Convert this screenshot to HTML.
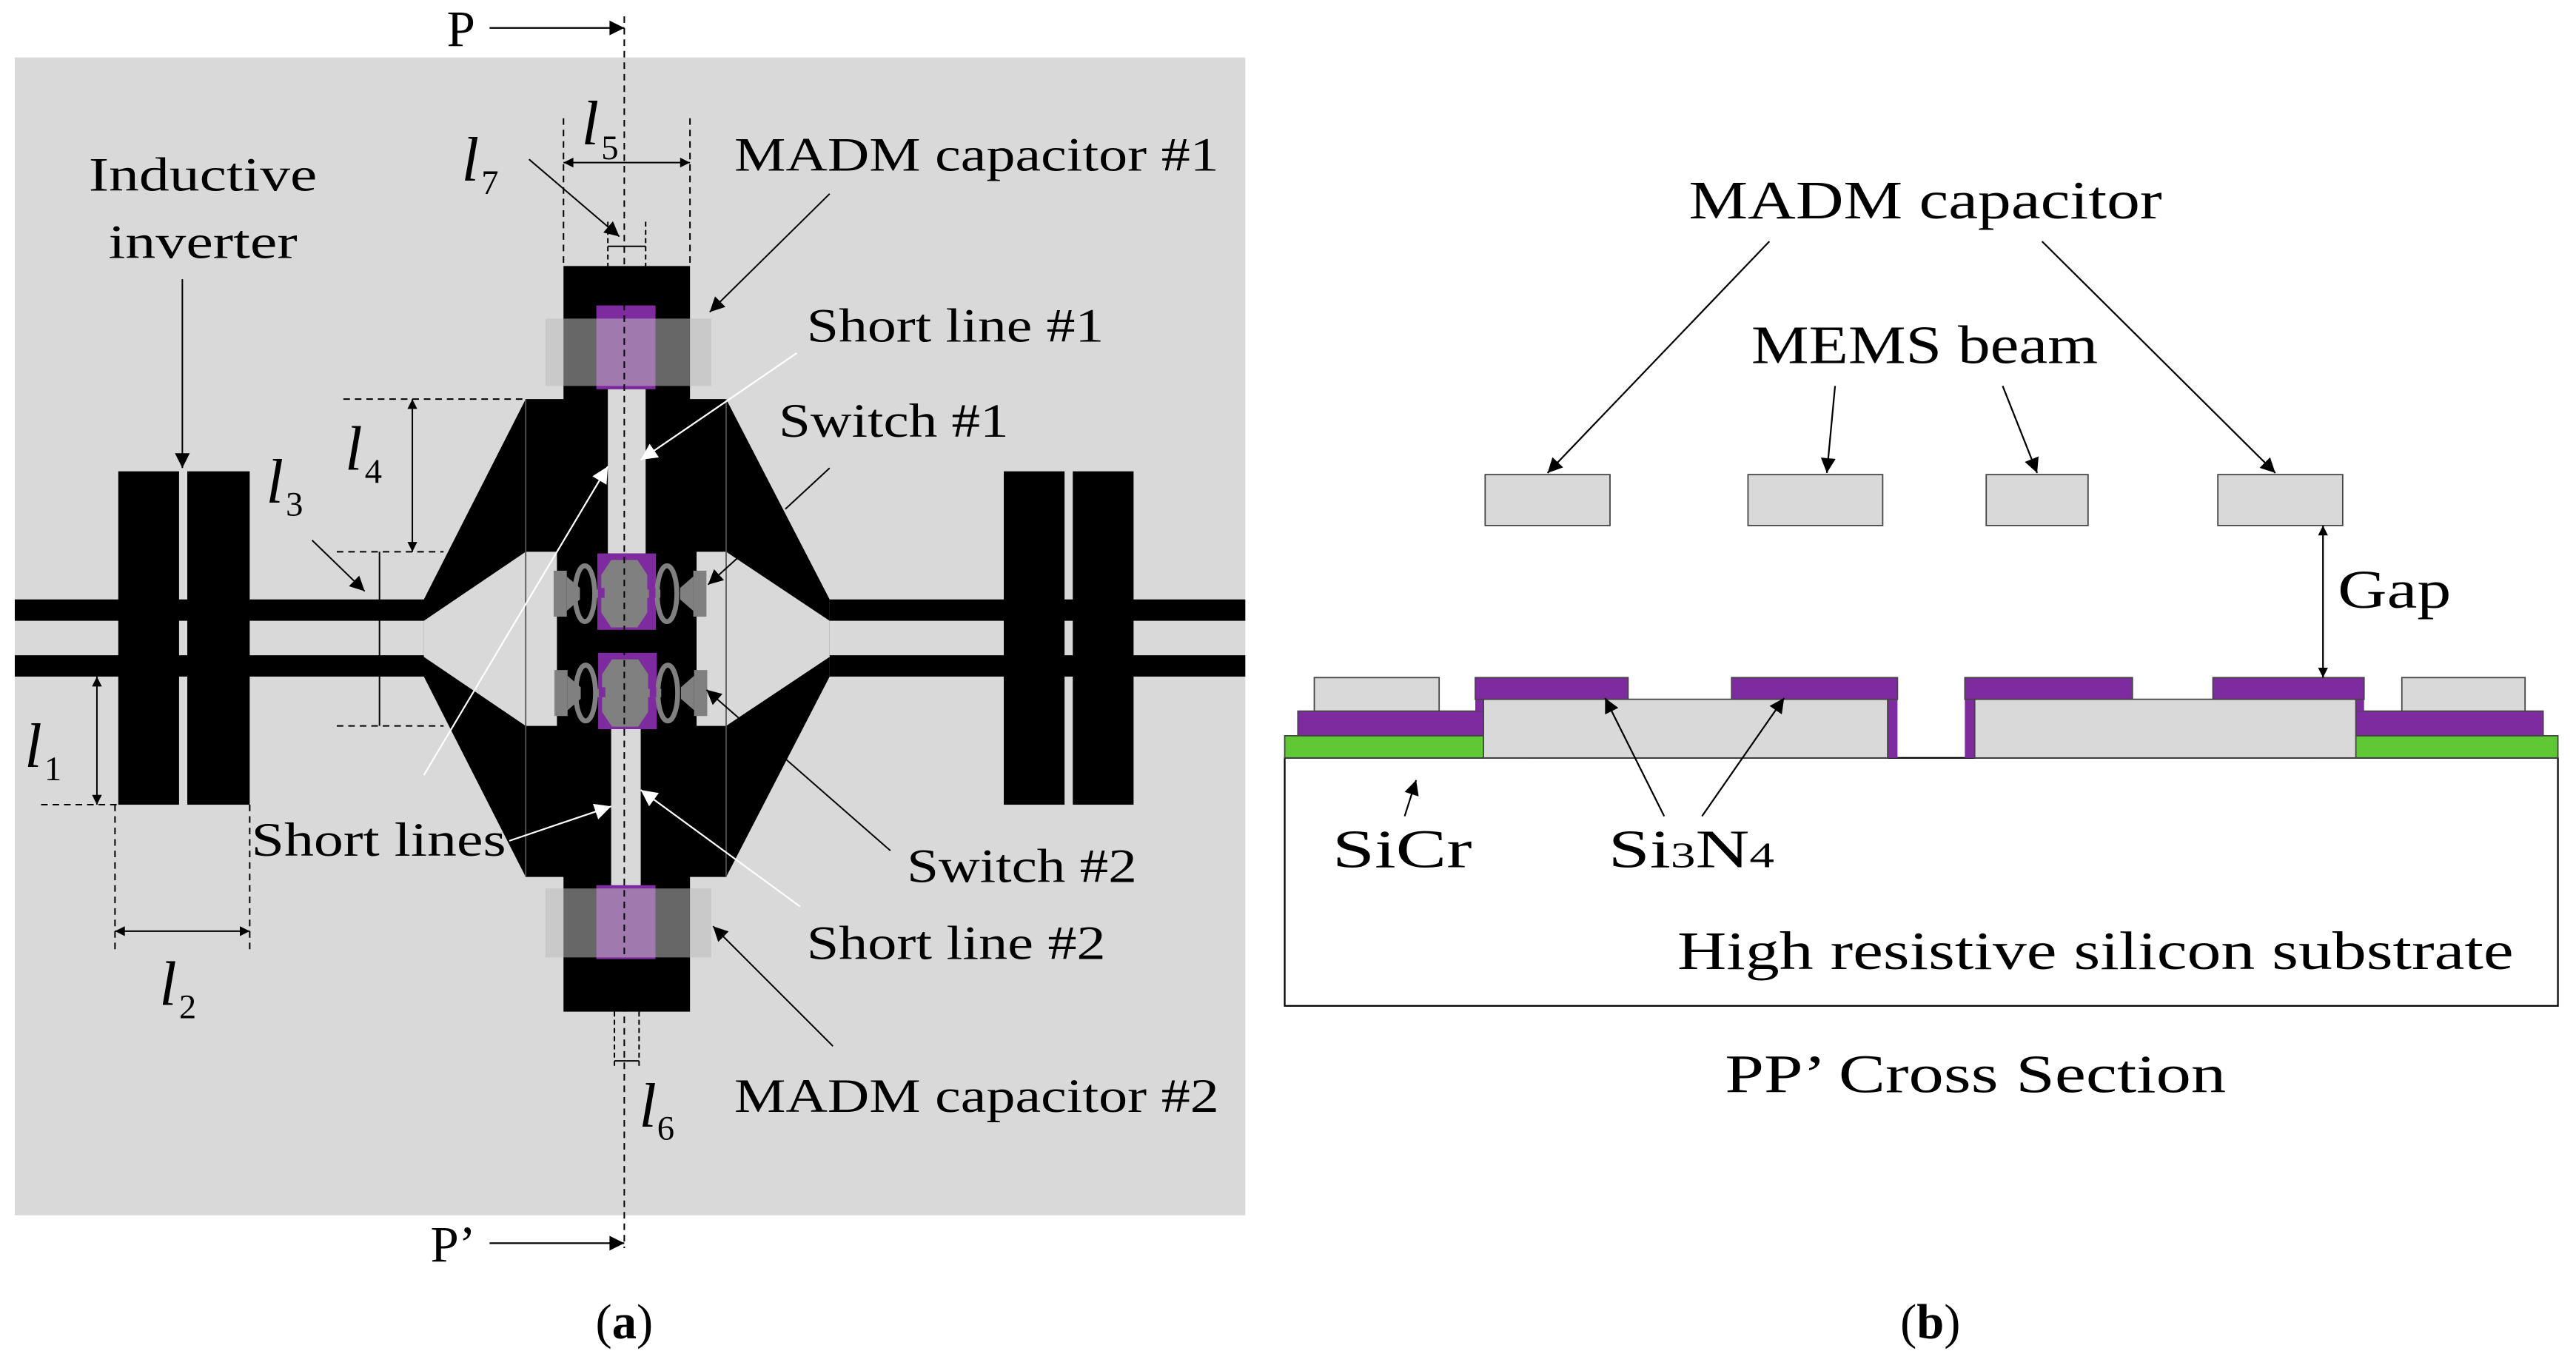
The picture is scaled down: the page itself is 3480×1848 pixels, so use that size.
<!DOCTYPE html>
<html><head><meta charset="utf-8"><style>
html,body{margin:0;padding:0;background:#fff;}
svg{display:block;}
text{font-family:"Liberation Serif",serif;fill:#000;}
</style></head><body>
<svg width="3480" height="1848" viewBox="0 0 1568 833" preserveAspectRatio="none" xmlns="http://www.w3.org/2000/svg">
<defs>
<marker id="ab" viewBox="0 0 10 10" refX="10" refY="5" markerWidth="12" markerHeight="9" markerUnits="userSpaceOnUse" orient="auto"><path d="M0,0 L10,5 L0,10 z" fill="#000"/></marker>
<marker id="abs" viewBox="0 0 10 10" refX="10" refY="5" markerWidth="12" markerHeight="6" markerUnits="userSpaceOnUse" orient="auto"><path d="M0,0 L10,5 L0,10 z" fill="#000"/></marker>
<marker id="ab2" viewBox="0 0 10 10" refX="0" refY="5" markerWidth="12" markerHeight="6" markerUnits="userSpaceOnUse" orient="auto"><path d="M10,0 L0,5 L10,10 z" fill="#000"/></marker>
<marker id="aw" viewBox="0 0 10 10" refX="10" refY="5" markerWidth="13" markerHeight="10" markerUnits="userSpaceOnUse" orient="auto"><path d="M0,0 L10,5 L0,10 z" fill="#fff"/></marker>
</defs>

<rect x="9" y="35" width="749" height="705" fill="#d9d9d9"/>
<rect x="9" y="365" width="250" height="13" fill="#000"/>
<rect x="9" y="399" width="250" height="13" fill="#000"/>
<rect x="505" y="365" width="253" height="13" fill="#000"/>
<rect x="505" y="399" width="253" height="13" fill="#000"/>
<rect x="72" y="287" width="37" height="203" fill="#000"/>
<rect x="114" y="287" width="38" height="203" fill="#000"/>
<rect x="611" y="287" width="37" height="203" fill="#000"/>
<rect x="653" y="287" width="37" height="203" fill="#000"/>
<path d="M343,162 H420 V243 H442 L505,365 V412 L442,534 H420 V616 H343 V534 H320 L258,412 V365 L320,243 H343 Z" fill="#000"/>
<path d="M258,378 L320,336 H339 V442 H320 L258,400 Z" fill="#d9d9d9"/>
<path d="M505,378 L442,336 H424 V442 H442 L505,400 Z" fill="#d9d9d9"/>
<line x1="320" y1="243" x2="320" y2="534" stroke="#555" stroke-width="0.8"/>
<line x1="442" y1="243" x2="442" y2="534" stroke="#555" stroke-width="0.8"/>
<rect x="370" y="237" width="23" height="100" fill="#d9d9d9"/>
<rect x="372" y="443" width="18" height="97" fill="#d9d9d9"/>
<rect x="363" y="186" width="36" height="51" fill="#7f2ba0"/>
<rect x="332" y="194" width="101" height="41" fill="#bbb" fill-opacity="0.55"/>
<rect x="363" y="539" width="36" height="45" fill="#7f2ba0"/>
<rect x="332" y="541" width="101" height="42" fill="#bbb" fill-opacity="0.55"/>
<g id="sw">
<rect x="363.6" y="337" width="35.7" height="46.5" fill="#7f2ba0"/>
<path d="M372,341 H388 L394,350 V373 L388,382 H372 L366,373 V350 Z" fill="#808080"/>
<rect x="337" y="347.5" width="8" height="28" fill="#808080"/>
<path d="M345,351 L353,358 V365 L345,372 Z" fill="#808080"/>
<rect x="362" y="359" width="40" height="5" fill="#808080"/>
<ellipse cx="356" cy="361.5" rx="6" ry="17" fill="none" stroke="#808080" stroke-width="3"/>
<ellipse cx="406" cy="361.5" rx="6" ry="17" fill="none" stroke="#808080" stroke-width="3"/>
<path d="M422,351 L414,358 V365 L422,372 Z" fill="#808080"/>
<rect x="422" y="347.5" width="8" height="28" fill="#808080"/>
<rect x="364" y="358" width="4" height="6" fill="#7f2ba0"/>
<rect x="395" y="358" width="4" height="6" fill="#7f2ba0"/>
</g>
<use href="#sw" transform="translate(0.5,60.5)"/>
<line x1="380" y1="10" x2="380" y2="760" stroke="#000" stroke-width="0.9" stroke-dasharray="4,3"/>
<text x="272" y="28" font-size="31">P</text>
<line x1="298" y1="17" x2="380" y2="17" stroke="#000" stroke-width="1" marker-end="url(#ab)"/>
<text x="262" y="768" font-size="31">P’</text>
<line x1="298" y1="757" x2="380" y2="757" stroke="#000" stroke-width="1" marker-end="url(#ab)"/>
<g stroke="#000" stroke-width="0.9" fill="none">
<line x1="343" y1="72" x2="343" y2="162" stroke-dasharray="4,3"/>
<line x1="420" y1="72" x2="420" y2="162" stroke-dasharray="4,3"/>
<line x1="343" y1="99" x2="420" y2="99" marker-start="url(#ab2)" marker-end="url(#abs)"/>
<line x1="370" y1="135" x2="370" y2="162" stroke-dasharray="3,2"/>
<line x1="393" y1="135" x2="393" y2="162" stroke-dasharray="3,2"/>
<line x1="370" y1="150" x2="393" y2="150"/>
<line x1="322" y1="97" x2="377" y2="144" marker-end="url(#ab)"/>
<line x1="209" y1="243" x2="320" y2="243" stroke-dasharray="4,3"/>
<line x1="205" y1="336" x2="270" y2="336" stroke-dasharray="4,3"/>
<line x1="251" y1="243" x2="251" y2="336" marker-start="url(#ab2)" marker-end="url(#abs)"/>
<line x1="231" y1="336" x2="231" y2="442"/>
<line x1="205" y1="442" x2="270" y2="442" stroke-dasharray="4,3"/>
<line x1="190" y1="329" x2="222" y2="360" marker-end="url(#ab)"/>
<line x1="25" y1="490" x2="72" y2="490" stroke-dasharray="4,3"/>
<line x1="59" y1="412" x2="59" y2="490" marker-start="url(#ab2)" marker-end="url(#abs)"/>
<line x1="70" y1="490" x2="70" y2="581" stroke-dasharray="4,3"/>
<line x1="152" y1="490" x2="152" y2="581" stroke-dasharray="4,3"/>
<line x1="70" y1="567" x2="152" y2="567" marker-start="url(#ab2)" marker-end="url(#abs)"/>
<line x1="374" y1="616" x2="374" y2="649" stroke-dasharray="3,2"/>
<line x1="389" y1="616" x2="389" y2="649" stroke-dasharray="3,2"/>
<line x1="374" y1="646" x2="389" y2="646"/>
<line x1="111" y1="170" x2="111" y2="285" marker-end="url(#ab)"/>
<line x1="505" y1="118" x2="432" y2="190" marker-end="url(#ab)"/>
<line x1="505" y1="285" x2="478" y2="310"/>
<line x1="452" y1="337" x2="431" y2="356" marker-end="url(#ab)"/>
<line x1="542" y1="518" x2="430" y2="420" marker-end="url(#ab)"/>
<line x1="507" y1="637" x2="434" y2="564" marker-end="url(#ab)"/>
</g>
<g stroke="#fff" stroke-width="1" fill="none">
<line x1="485" y1="215" x2="390" y2="280" marker-end="url(#aw)"/>
<line x1="258" y1="472" x2="370" y2="284" marker-end="url(#aw)"/>
<line x1="310" y1="512" x2="372" y2="491" marker-end="url(#aw)"/>
<line x1="487" y1="552" x2="390" y2="481" marker-end="url(#aw)"/>
</g>
<g font-size="38" font-style="italic">
<text x="354" y="88">l</text><text x="281" y="110">l</text>
<text x="210" y="286">l</text><text x="162" y="306">l</text>
<text x="15" y="467">l</text><text x="97" y="612">l</text>
<text x="389" y="686">l</text>
</g>
<g font-size="21">
<text x="366" y="97">5</text><text x="293" y="118">7</text>
<text x="222" y="294">4</text><text x="174" y="314">3</text>
<text x="27" y="475">1</text><text x="109" y="620">2</text>
<text x="400" y="694">6</text>
</g>
<g font-size="29">
<text x="54" y="116" textLength="139" lengthAdjust="spacingAndGlyphs">Inductive</text>
<text x="66" y="157" textLength="115" lengthAdjust="spacingAndGlyphs">inverter</text>
<text x="447" y="104" textLength="295" lengthAdjust="spacingAndGlyphs">MADM capacitor #1</text>
<text x="491" y="208" textLength="181" lengthAdjust="spacingAndGlyphs">Short line #1</text>
<text x="474" y="266" textLength="140" lengthAdjust="spacingAndGlyphs">Switch #1</text>
<text x="153" y="521" textLength="155" lengthAdjust="spacingAndGlyphs">Short lines</text>
<text x="552" y="537" textLength="140" lengthAdjust="spacingAndGlyphs">Switch #2</text>
<text x="491" y="584" textLength="182" lengthAdjust="spacingAndGlyphs">Short line #2</text>
<text x="447" y="677" textLength="295" lengthAdjust="spacingAndGlyphs">MADM capacitor #2</text>
</g>
<text x="380" y="815" font-size="30" text-anchor="middle">(<tspan font-weight="bold">a</tspan>)</text>

<rect x="782" y="461.5" width="775" height="151" fill="#fff" stroke="#000" stroke-width="1"/>
<g stroke="#444" stroke-width="0.8">
<rect x="904" y="289" width="76" height="31" fill="#d9d9d9"/>
<rect x="1064" y="289" width="82" height="31" fill="#d9d9d9"/>
<rect x="1209" y="289" width="62" height="31" fill="#d9d9d9"/>
<rect x="1350" y="289" width="76" height="31" fill="#d9d9d9"/>
<rect x="782" y="448" width="149" height="13.5" fill="#5ec935"/>
<rect x="1407" y="448" width="150" height="13.5" fill="#5ec935"/>
<rect x="790" y="433" width="125" height="15" fill="#7f2ba0"/>
<rect x="1423" y="433" width="125" height="15" fill="#7f2ba0"/>
<rect x="800" y="412.6" width="76" height="20.4" fill="#d9d9d9"/>
<rect x="1462" y="412.6" width="75" height="20.4" fill="#d9d9d9"/>
<path d="M898,425.8 H1155 V461.5 H1149 V425.8 Z" fill="#7f2ba0" stroke="none"/>
<rect x="898" y="425.8" width="5" height="7.2" fill="#7f2ba0" stroke="none"/>
<rect x="903" y="425.8" width="246" height="35.7" fill="#d9d9d9"/>
<path d="M1196,425.8 H1439 V433 H1434 V461.5 H1202 V461.5 H1196 Z" fill="#7f2ba0" stroke="none"/>
<rect x="1202" y="425.8" width="232" height="35.7" fill="#d9d9d9"/>
<rect x="898" y="412.6" width="93" height="13.2" fill="#7f2ba0"/>
<rect x="1054" y="412.6" width="101" height="13.2" fill="#7f2ba0"/>
<rect x="1196" y="412.6" width="102" height="13.2" fill="#7f2ba0"/>
<rect x="1347" y="412.6" width="92" height="13.2" fill="#7f2ba0"/>
</g>
<g stroke="#000" stroke-width="1" fill="none">
<line x1="1414" y1="320" x2="1414" y2="412.6" marker-start="url(#ab2)" marker-end="url(#abs)"/>
<line x1="1077" y1="147" x2="942" y2="288" marker-end="url(#ab)"/>
<line x1="1243" y1="147" x2="1385" y2="288" marker-end="url(#ab)"/>
<line x1="1117" y1="235" x2="1112" y2="288" marker-end="url(#ab)"/>
<line x1="1219" y1="235" x2="1240" y2="288" marker-end="url(#ab)"/>
<line x1="855" y1="497" x2="862" y2="475" marker-end="url(#ab)"/>
<line x1="1013" y1="497" x2="977" y2="425" marker-end="url(#ab)"/>
<line x1="1036" y1="497" x2="1086" y2="425" marker-end="url(#ab)"/>
</g>
<g font-size="33">
<text x="1028" y="133" textLength="288" lengthAdjust="spacingAndGlyphs">MADM capacitor</text>
<text x="1066" y="221" textLength="211" lengthAdjust="spacingAndGlyphs">MEMS beam</text>
<text x="1423" y="370" textLength="69" lengthAdjust="spacingAndGlyphs">Gap</text>
<text x="811" y="528" textLength="85" lengthAdjust="spacingAndGlyphs">SiCr</text>
<text x="979" y="528" textLength="101" lengthAdjust="spacingAndGlyphs">Si<tspan font-size="22">3</tspan>N<tspan font-size="22">4</tspan></text>
<text x="1021" y="590" textLength="509" lengthAdjust="spacingAndGlyphs">High resistive silicon substrate</text>
<text x="1050" y="665" textLength="305" lengthAdjust="spacingAndGlyphs">PP’  Cross Section</text>
</g>
<text x="1175" y="815" font-size="30" text-anchor="middle">(<tspan font-weight="bold">b</tspan>)</text>
</svg>
</body></html>
